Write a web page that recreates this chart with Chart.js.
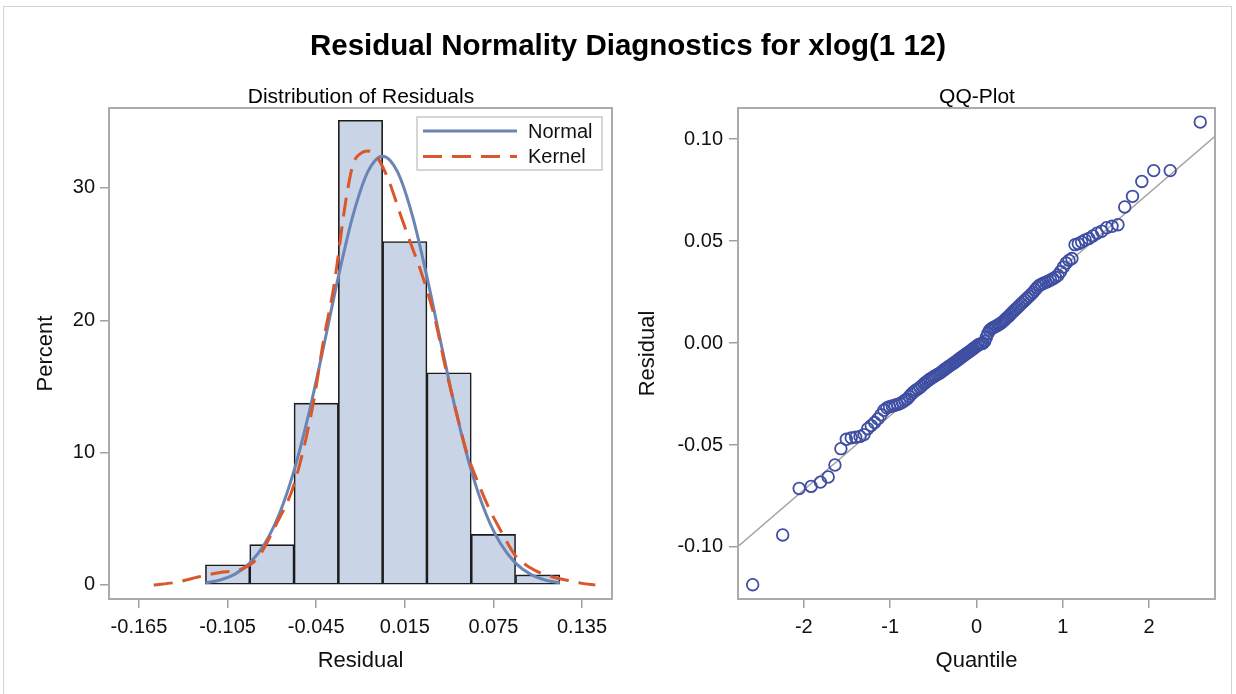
<!DOCTYPE html>
<html><head><meta charset="utf-8">
<script src="https://cdn.jsdelivr.net/npm/chart.js@4.4.1/dist/chart.umd.min.js"></script>
<style>
html,body{margin:0;padding:0;background:#fff;}
#wrap{position:relative;width:1236px;height:694px;overflow:hidden;font-family:"Liberation Sans",Arial,sans-serif;background:#fff;}
#frame{position:absolute;left:3px;top:6px;width:1229px;height:700px;border:1px solid #d4d4d4;box-sizing:border-box;}
.t{position:absolute;white-space:nowrap;transform:translate(-50%,-50%);color:#000;}
#main{left:628px;top:45px;font-size:29.5px;font-weight:bold;}
#p1{left:361px;top:96px;font-size:21px;}
#p2{left:977px;top:96px;font-size:21px;}
canvas{position:absolute;top:0;}
#c1{left:0;}
#c2{left:618px;}
</style></head>
<body>
<div id="wrap">
<div id="frame"></div>
<canvas id="c1" width="618" height="694"></canvas>
<canvas id="c2" width="618" height="694"></canvas>
<div class="t" id="main">Residual Normality Diagnostics for xlog(1 12)</div>
<div class="t" id="p1">Distribution of Residuals</div>
<div class="t" id="p2">QQ-Plot</div>
</div>
<script>
// ---------- Histogram data ----------
const binMids = [-0.105, -0.075, -0.045, -0.015, 0.015, 0.045, 0.075, 0.105];
const percents = [1.53, 3.05, 13.74, 35.11, 25.95, 16.03, 3.82, 0.76];
const histXTicks = [-0.165, -0.105, -0.045, 0.015, 0.075, 0.135];
const histYTicks = [0, 10, 20, 30];

// Normal density curve (percent scale)
const normalX = [-0.12,-0.11,-0.10,-0.09,-0.08,-0.07,-0.06,-0.05,-0.04,-0.03,-0.02,-0.01,0.00,0.01,0.02,0.03,0.04,0.05,0.06,0.07,0.08,0.09,0.10,0.11,0.12];
const normalY = [0.16,0.38,0.82,1.65,3.09,5.36,8.64,12.94,18.0,23.28,27.96,31.23,32.4,31.23,27.96,23.28,18.0,12.94,8.64,5.36,3.09,1.65,0.82,0.38,0.16];

// Kernel density curve (percent scale)
const kernelX = [-0.155,-0.14,-0.125,-0.11,-0.097,-0.085,-0.072,-0.06,-0.047,-0.04,-0.033,-0.025,-0.02,-0.015,-0.01,-0.005,0.0,0.005,0.012,0.02,0.025,0.035,0.043,0.05,0.057,0.064,0.072,0.08,0.09,0.10,0.107,0.115,0.125,0.135,0.144];
const kernelY = [0.0,0.2,0.6,0.95,1.15,2.0,4.6,7.6,13.7,18.5,22.6,29.0,31.8,32.6,32.8,32.5,31.6,30.3,28.0,25.5,24.0,20.3,16.2,13.0,10.0,7.9,5.8,4.1,2.2,1.3,0.9,0.6,0.35,0.12,0.0];

// ---------- QQ data ----------
const quantiles = [-2.593,-2.245,-2.054,-1.916,-1.808,-1.718,-1.640,-1.571,-1.508,-1.451,-1.399,-1.349,-1.303,-1.260,-1.219,-1.180,-1.142,-1.106,-1.072,-1.039,-1.007,-0.975,-0.945,-0.915,-0.887,-0.859,-0.831,-0.805,-0.778,-0.753,-0.728,-0.703,-0.679,-0.655,-0.632,-0.608,-0.586,-0.563,-0.541,-0.519,-0.497,-0.476,-0.454,-0.433,-0.412,-0.391,-0.371,-0.350,-0.330,-0.310,-0.290,-0.270,-0.250,-0.231,-0.211,-0.192,-0.173,-0.153,-0.134,-0.115,-0.096,-0.076,-0.057,-0.038,-0.019,0.000,0.019,0.038,0.057,0.076,0.096,0.115,0.134,0.153,0.173,0.192,0.211,0.231,0.250,0.270,0.290,0.310,0.330,0.350,0.371,0.391,0.412,0.433,0.454,0.476,0.497,0.519,0.541,0.563,0.586,0.608,0.632,0.655,0.679,0.703,0.728,0.753,0.778,0.805,0.831,0.859,0.887,0.915,0.945,0.975,1.007,1.039,1.072,1.106,1.142,1.180,1.219,1.260,1.303,1.349,1.399,1.451,1.508,1.571,1.640,1.718,1.808,1.916,2.054,2.245,2.593];
const residuals = [-0.1185,-0.0941,-0.0713,-0.0703,-0.0682,-0.0657,-0.0598,-0.0518,-0.0472,-0.0465,-0.0462,-0.0458,-0.0449,-0.0420,-0.0405,-0.0390,-0.0372,-0.0352,-0.0330,-0.0318,-0.0312,-0.0309,-0.0305,-0.0301,-0.0297,-0.0290,-0.0282,-0.0275,-0.0262,-0.0250,-0.0240,-0.0232,-0.0225,-0.0218,-0.0210,-0.0200,-0.0192,-0.0185,-0.0178,-0.0172,-0.0165,-0.0160,-0.0155,-0.0150,-0.0144,-0.0137,-0.0130,-0.0124,-0.0118,-0.0112,-0.0106,-0.0100,-0.0094,-0.0088,-0.0082,-0.0076,-0.0070,-0.0064,-0.0058,-0.0052,-0.0046,-0.0040,-0.0034,-0.0028,-0.0022,-0.0016,-0.0010,-0.0006,-0.0003,-0.0001,0.0008,0.0028,0.0048,0.0062,0.0070,0.0075,0.0079,0.0083,0.0088,0.0093,0.0099,0.0106,0.0114,0.0122,0.0130,0.0139,0.0148,0.0157,0.0165,0.0174,0.0183,0.0192,0.0201,0.0210,0.0219,0.0228,0.0238,0.0248,0.0260,0.0272,0.0282,0.0288,0.0293,0.0298,0.0303,0.0309,0.0315,0.0322,0.0332,0.0350,0.0372,0.0392,0.0405,0.0414,0.0482,0.0487,0.0495,0.0505,0.0512,0.0525,0.0538,0.0548,0.0565,0.0572,0.0580,0.0667,0.0719,0.0792,0.0845,0.0845,0.1083];
const refX = [-2.763, 2.764];
const refY = [-0.0997, 0.1013];
const qqXTicks = [-2, -1, 0, 1, 2];
const qqYTicks = [-0.10, -0.05, 0.00, 0.05, 0.10];

// ---------- styles ----------
const FONT = "'Liberation Sans', Arial, sans-serif";
Chart.defaults.font.family = FONT;
Chart.defaults.color = '#111';
const FRAME = '#ababab';
const TICKC = '#a0a0a0';
const NORMAL_C = '#6A84B4';
const KERNEL_C = '#D9572A';
const BAR_FILL = '#C9D4E6';
const MARK_C = '#3E4EA2';
const KDASH = [19, 10];

const framePlugin = {
  id: 'frame',
  afterDraw(chart) {
    const a = chart.chartArea, ctx = chart.ctx;
    ctx.save();
    ctx.strokeStyle = FRAME; ctx.lineWidth = 2;
    ctx.strokeRect(a.left, a.top, a.right - a.left, a.bottom - a.top);
    ctx.restore();
  }
};

const legendPlugin = {
  id: 'insideLegend',
  afterDraw(chart) {
    const a = chart.chartArea, ctx = chart.ctx;
    const w = 185, h = 53;
    const x0 = a.right - 10 - w, y0 = a.top + 9;
    ctx.save();
    ctx.fillStyle = '#fff'; ctx.strokeStyle = '#c8c8c8'; ctx.lineWidth = 1.5;
    ctx.fillRect(x0, y0, w, h); ctx.strokeRect(x0, y0, w, h);
    const items = [
      {label: 'Normal', color: NORMAL_C, dash: []},
      {label: 'Kernel', color: KERNEL_C, dash: KDASH}
    ];
    items.forEach((it, i) => {
      const y = y0 + 14 + i * 25.5;
      ctx.strokeStyle = it.color; ctx.lineWidth = 3; ctx.setLineDash(it.dash);
      ctx.beginPath(); ctx.moveTo(x0 + 6, y); ctx.lineTo(x0 + 100, y); ctx.stroke();
      ctx.setLineDash([]);
      ctx.fillStyle = '#111'; ctx.font = '20px ' + FONT; ctx.textBaseline = 'middle'; ctx.textAlign = 'left';
      ctx.fillText(it.label, x0 + 111, y + 1);
    });
    ctx.restore();
  }
};

function gridOpts() {
  return {display: true, offset: false, drawOnChartArea: false, drawTicks: true, tickLength: 9, color: TICKC, lineWidth: 1.5};
}

new Chart(document.getElementById('c1'), {
  type: 'bar',
  data: {
    datasets: [
      {type: 'line', label: 'Kernel', data: kernelX.map((x, i) => ({x, y: kernelY[i]})),
       borderColor: KERNEL_C, borderWidth: 3, borderDash: KDASH, pointRadius: 0,
       cubicInterpolationMode: 'monotone', fill: false, order: 1},
      {type: 'line', label: 'Normal', data: normalX.map((x, i) => ({x, y: normalY[i]})),
       borderColor: NORMAL_C, borderWidth: 3, pointRadius: 0,
       cubicInterpolationMode: 'monotone', fill: false, order: 2},
      {type: 'bar', label: 'Percent', data: binMids.map((x, i) => ({x, y: percents[i]})),
       backgroundColor: BAR_FILL, borderColor: '#1c1c1c', borderWidth: 1.6, borderSkipped: false,
       barPercentage: 1, categoryPercentage: 1, order: 3}
    ]
  },
  options: {
    responsive: false, animation: false, events: [],
    layout: {padding: {left: 0, right: 6, top: 108, bottom: 0}},
    plugins: {legend: {display: false}, tooltip: {enabled: false}},
    scales: {
      x: {
        type: 'linear', min: -0.1853, max: 0.1553, offset: false,
        grid: gridOpts(), border: {display: false},
        ticks: {font: {size: 20}, padding: 7, color: '#111', maxRotation: 0, autoSkip: false,
                callback: v => Number(v).toFixed(3)},
        afterBuildTicks: s => { s.ticks = histXTicks.map(v => ({value: v})); },
        afterFit: s => { s.height = 95; },
        title: {display: true, text: 'Residual', font: {size: 22}, color: '#111', padding: {top: 0, bottom: 20}}
      },
      y: {
        type: 'linear', min: -1.06, max: 36.04,
        grid: gridOpts(), border: {display: false},
        ticks: {font: {size: 20}, padding: 5, color: '#111', autoSkip: false},
        afterBuildTicks: s => { s.ticks = histYTicks.map(v => ({value: v})); },
        afterFit: s => { s.width = 109; },
        title: {display: true, text: 'Percent', font: {size: 22}, color: '#111', padding: {top: 33, bottom: 0}}
      }
    }
  },
  plugins: [framePlugin, legendPlugin]
});

new Chart(document.getElementById('c2'), {
  type: 'scatter',
  data: {
    datasets: [
      {label: 'Residual', data: quantiles.map((q, i) => ({x: q, y: residuals[i]})),
       pointStyle: 'circle', pointRadius: 5.8, pointBorderWidth: 1.8,
       pointBorderColor: MARK_C, pointBackgroundColor: 'rgba(0,0,0,0)', order: 1},
      {type: 'line', label: 'Reference', data: refX.map((x, i) => ({x, y: refY[i]})),
       borderColor: '#a3a3a3', borderWidth: 1.5, pointRadius: 0, showLine: true, fill: false, order: 2}
    ]
  },
  options: {
    responsive: false, animation: false, events: [],
    layout: {padding: {left: 0, right: 21, top: 108, bottom: 0}},
    plugins: {legend: {display: false}, tooltip: {enabled: false}},
    scales: {
      x: {
        type: 'linear', min: -2.763, max: 2.764,
        grid: gridOpts(), border: {display: false},
        ticks: {font: {size: 20}, padding: 7, color: '#111', maxRotation: 0, autoSkip: false,
                callback: v => String(v)},
        afterBuildTicks: s => { s.ticks = qqXTicks.map(v => ({value: v})); },
        afterFit: s => { s.height = 95; },
        title: {display: true, text: 'Quantile', font: {size: 22}, color: '#111', padding: {top: 0, bottom: 20}}
      },
      y: {
        type: 'linear', min: -0.1255, max: 0.1152,
        grid: gridOpts(), border: {display: false},
        ticks: {font: {size: 20}, padding: 6, color: '#111', autoSkip: false,
                callback: v => Number(v).toFixed(2)},
        afterBuildTicks: s => { s.ticks = qqYTicks.map(v => ({value: v})); },
        afterFit: s => { s.width = 120; },
        title: {display: true, text: 'Residual', font: {size: 22}, color: '#111', padding: {top: 17, bottom: 0}}
      }
    }
  },
  plugins: [framePlugin]
});
</script>
</body></html>
